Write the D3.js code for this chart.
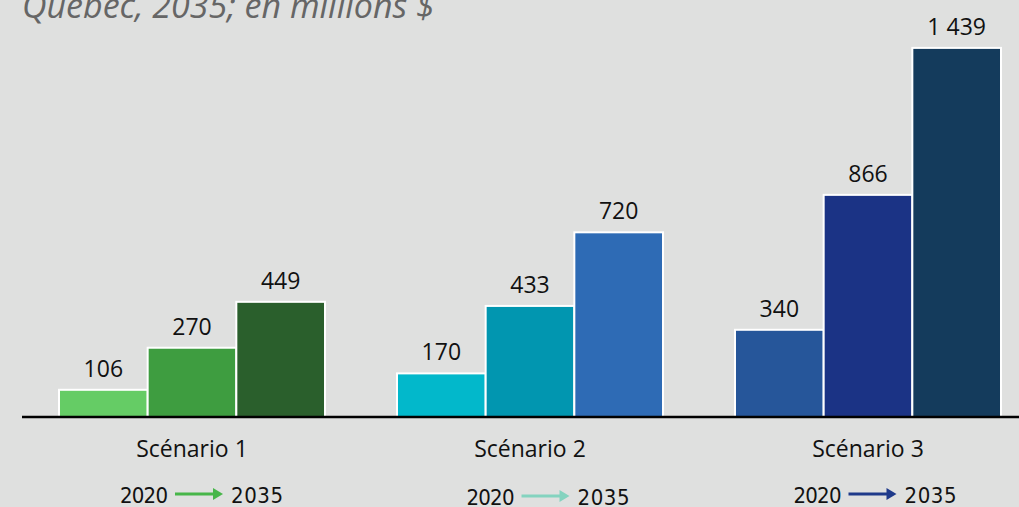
<!DOCTYPE html>
<html lang="fr">
<head>
    <meta charset="utf-8"/>
    <title>Scénarios 2020-2035</title>
    <script src="https://d3js.org/d3.v7.min.js"></script>
    <style>
        body { margin: 0; background: #dfe0df; }
        svg { display: block; }
    </style>
</head>
<body>
<div id="viz">
    <svg width="1019" height="507"></svg>
</div>

<script type="text/javascript">

    // données
    const scenarios = ["Scénario 1", "Scénario 2", "Scénario 3"];
    const etapes = ["a", "b", "c"];
    const valeurs = [
        [106, 270, 449],
        [170, 433, 720],
        [340, 866, 1439]
    ];
    const anneeDebut = "2020", anneeFin = "2035";
    const titre = "Québec, 2035; en millions $";

    // couleurs
    const couleurs = [
        ["#65cc65", "#3e9d40", "#2a5f2c"],
        ["#02b8cb", "#0196b0", "#2e6bb5"],
        ["#26569a", "#1b3385", "#143b5c"]
    ];
    const couleursFleche = ["#47b649", "#84d3bf", "#1f3a8a"];
    // petits décalages de la légende sous chaque groupe
    const legendeDx = [7, 15.5, 4.5], legendeY = [503, 505, 503];

    const svg = d3.select("svg");
    const base = 417;

    const fr = d3.formatLocale({decimal: ",", thousands: " ", grouping: [3], currency: ["", " $"]});
    const fmt = fr.format(",d");

    // échelles
    let x0 = d3.scaleBand().domain(scenarios).range([23, 1037]).paddingInner(0.213).paddingOuter(0.1065);
    let x1 = d3.scaleBand().domain(etapes).range([0, x0.bandwidth()]).padding(0);
    let y = d3.scaleLinear().domain([0, 1500]).range([base, base - 1500 * 0.2565]);

    // titre (coupé en haut)
    svg.append("text")
        .attr("x", 22)
        .attr("y", 18)
        .style("font-family", "Open Sans")
        .style("font-style", "italic")
        .style("font-size", "34px")
        .style("fill", "#666")
        .text(titre);

    let groupes = svg.selectAll("g.groupe")
        .data(scenarios).enter()
        .append("g")
        .attr("class", "groupe")
        .attr("transform", d => "translate(" + x0(d) + ",0)");

    groupes.selectAll("rect")
        .data((d, i) => valeurs[i].map((v, j) => ({g: i, k: etapes[j], v: v, c: couleurs[i][j]})))
        .enter()
        .append("rect")
        .attr("x", d => x1(d.k))
        .attr("y", d => y(d.v))
        .attr("width", x1.bandwidth())
        .attr("height", d => base - y(d.v))
        .attr("fill", d => d.c)
        .attr("stroke", "#fff")
        .attr("stroke-width", 2);

    groupes.selectAll("text.valeur")
        .data((d, i) => valeurs[i].map((v, j) => ({k: etapes[j], v: v})))
        .enter()
        .append("text")
        .attr("class", "valeur")
        .attr("x", d => x1(d.k) + x1.bandwidth() / 2)
        .attr("y", d => y(d.v) - 13)
        .attr("text-anchor", "middle")
        .style("font-family", "Open Sans")
        .style("font-size", "23px")
        .style("fill", "#111")
        .text(d => fmt(d.v));

    // ligne de base
    svg.append("line")
        .attr("x1", 22).attr("x2", 1019)
        .attr("y1", base).attr("y2", base)
        .attr("stroke", "#000")
        .attr("stroke-width", 2.5);

    // noms des scénarios
    svg.selectAll("text.cat")
        .data(scenarios).enter()
        .append("text")
        .attr("class", "cat")
        .attr("x", d => x0(d) + x0.bandwidth() / 2)
        .attr("y", 457)
        .attr("text-anchor", "middle")
        .style("font-family", "Open Sans")
        .style("font-size", "23px")
        .style("fill", "#111")
        .text(d => d);

    // légende 2020 -> 2035
    let legendes = svg.selectAll("g.legende")
        .data(scenarios).enter()
        .append("g")
        .attr("class", "legende")
        .attr("transform", (d, i) => "translate(" + (x0(d) + x0.bandwidth() / 2 + legendeDx[i]) + "," + legendeY[i] + ")")
        .style("font-family", "DejaVu Sans Condensed, DejaVu Sans")
        .style("font-stretch", "condensed")
        .style("font-size", "22px")
        .style("fill", "#111");

    legendes.append("text")
        .attr("x", -31).attr("y", 0)
        .attr("text-anchor", "end")
        .attr("textLength", 48)
        .text(anneeDebut);

    legendes.append("text")
        .attr("x", 32).attr("y", 0)
        .attr("textLength", 52)
        .text(anneeFin);

    legendes.append("line")
        .attr("x1", -24).attr("x2", 15)
        .attr("y1", -9).attr("y2", -9)
        .attr("stroke", (d, i) => couleursFleche[i])
        .attr("stroke-width", 3);

    legendes.append("path")
        .attr("d", "M14,-15 L24,-9 L14,-3 Z")
        .attr("fill", (d, i) => couleursFleche[i]);

</script>
</body>
</html>
